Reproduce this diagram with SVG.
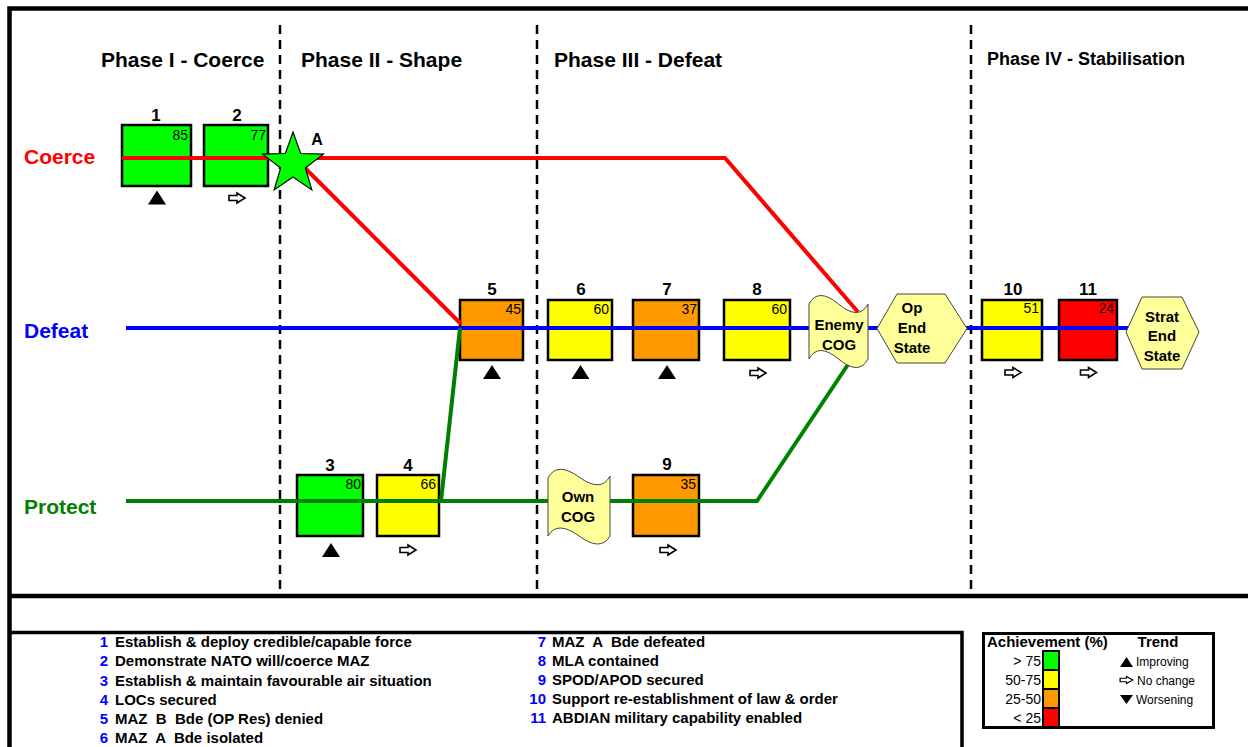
<svg xmlns="http://www.w3.org/2000/svg" width="1248" height="747" viewBox="0 0 1248 747">
<style>
text{font-family:"Liberation Sans",Arial,sans-serif}
.frame{fill:none;stroke:#000;stroke-width:4.5}
.phase{stroke:#000;stroke-width:2.5;stroke-dasharray:9 6;fill:none}
.title{font-size:21px;font-weight:bold}
.row{font-size:21px;font-weight:bold}
.box{stroke:#000;stroke-width:2.5}
.g{fill:#00ff00}.y{fill:#ffff00}.o{fill:#ff9900}.r{fill:#ff0000}
.num{font-size:17px;font-weight:bold;text-anchor:middle}
.val{font-size:14px;text-anchor:end}
.cog{fill:#ffff99;stroke:#444;stroke-width:1}
.ct{font-size:15px;font-weight:bold;text-anchor:middle}
.ln{fill:none;stroke-width:4}
.lg{font-size:15px;font-weight:bold;white-space:pre}
.lgn{font-size:15px;font-weight:bold;fill:#0000ff;text-anchor:end}
.sw{stroke:#000;stroke-width:2}
.rng{font-size:14px;text-anchor:end}
.tr{font-size:12px}
</style>
<defs>
<path id="up" d="M0,-7 L9,7 L-9,7 Z" fill="#000"/>
<path id="arr" d="M-8,-2.5 H0 V-5 L8,0 L0,5 V2.5 H-8 Z" fill="#fff" stroke="#000" stroke-width="1.6" stroke-linejoin="miter"/>
</defs>
<rect width="1248" height="747" fill="#fff"/>
<g id="frame">
<path class="frame" d="M1252,8.5 H9.5 V750"/>
<path class="frame" d="M9.5,596 H1252"/>
<path d="M9.5,632.5 H962 V750" fill="none" stroke="#000" stroke-width="3.5"/>
<rect x="983.5" y="633.5" width="230" height="94" fill="none" stroke="#000" stroke-width="3"/>
<line class="phase" x1="280" y1="25" x2="280" y2="594"/>
<line class="phase" x1="537" y1="25" x2="537" y2="594"/>
<line class="phase" x1="971" y1="25" x2="971" y2="594"/>
</g>
<g id="titles">
<text class="title" x="101" y="67">Phase I - Coerce</text>
<text class="title" x="301" y="67">Phase II - Shape</text>
<text class="title" x="554" y="67">Phase III - Defeat</text>
<text x="987" y="65" font-size="18" font-weight="bold">Phase IV - Stabilisation</text>
<text class="row" x="24" y="164" fill="#ff0000">Coerce</text>
<text class="row" x="24" y="338" fill="#0000ff">Defeat</text>
<text class="row" x="24" y="514" fill="#008000">Protect</text>
</g>
<g id="n1"><rect class="box g" x="122" y="125" width="69" height="61"/><text class="num" x="156" y="121">1</text><text class="val" x="188" y="140">85</text><use href="#up" x="157" y="197.5"/></g>
<g id="n2"><rect class="box g" x="204" y="125" width="64" height="61"/><text class="num" x="237" y="121">2</text><text class="val" x="266" y="140">77</text><use href="#arr" x="237" y="198"/></g>
<g id="n3"><rect class="box g" x="297" y="475" width="66" height="61"/><text class="num" x="330" y="471">3</text><text class="val" x="361" y="489">80</text><use href="#up" x="331" y="550"/></g>
<g id="n4"><rect class="box y" x="377" y="475" width="62" height="61"/><text class="num" x="408" y="471">4</text><text class="val" x="436" y="489">66</text><use href="#arr" x="408" y="550"/></g>
<g id="n5"><rect class="box o" x="460" y="300" width="63" height="60"/><text class="num" x="492" y="295">5</text><text class="val" x="521" y="314">45</text><use href="#up" x="492" y="372"/></g>
<g id="n6"><rect class="box y" x="548" y="300" width="64" height="60"/><text class="num" x="581" y="295">6</text><text class="val" x="609" y="314">60</text><use href="#up" x="580.5" y="372"/></g>
<g id="n7"><rect class="box o" x="633" y="300" width="66" height="60"/><text class="num" x="667" y="295">7</text><text class="val" x="697" y="314">37</text><use href="#up" x="667" y="372"/></g>
<g id="n8"><rect class="box y" x="724" y="300" width="66" height="60"/><text class="num" x="757" y="295">8</text><text class="val" x="787" y="314">60</text><use href="#arr" x="758" y="373"/></g>
<g id="n9"><rect class="box o" x="633" y="475" width="66" height="61"/><text class="num" x="667" y="470">9</text><text class="val" x="696" y="489">35</text><use href="#arr" x="668" y="550"/></g>
<g id="n10"><rect class="box y" x="982" y="300" width="60" height="60"/><text class="num" x="1013" y="295">10</text><text class="val" x="1039" y="313">51</text><use href="#arr" x="1013" y="372.5"/></g>
<g id="n11"><rect class="box r" x="1059" y="300" width="58" height="60"/><text class="num" x="1088" y="295">11</text><text class="val" x="1114" y="313">24</text><use href="#arr" x="1088.5" y="372.5"/></g>
<g id="connectors">
<path class="ln" stroke="#ff0000" d="M122,158 H725 L858,312"/>
<path class="ln" stroke="#ff0000" d="M300,163 L461,324"/>
<path class="ln" stroke="#0000ff" d="M126,328 H1130"/>
<path class="ln" stroke="#008000" d="M126,501 H757 L851,360"/>
<path class="ln" stroke="#008000" d="M441,501 L460,328"/>
</g>
<g id="starA">
<polygon points="293,132 300.64,153.48 323.43,154.11 305.36,168.02 311.81,189.89 293,177 274.19,189.89 280.64,168.02 262.57,154.11 285.36,153.48" fill="#00ff00" stroke="#000" stroke-width="1.2"/>
<text x="317" y="145" font-size="16" font-weight="bold" text-anchor="middle">A</text>
</g>
<g id="enemyCOG">
<path class="cog" d="M809,304 Q818,287 838.5,304 Q859,321 868,304 L868,359 Q859,376 838.5,359 Q818,342 809,359 Z"/>
<text class="ct" x="839" y="330">Enemy</text><text class="ct" x="839" y="349.5">COG</text>
</g>
<g id="ownCOG">
<path class="cog" d="M548,478 Q557,461 579,477 Q601,493 610,476 L610,536 Q601,552 579,536 Q557,520 548,536 Z"/>
<text class="ct" x="578" y="502">Own</text><text class="ct" x="578" y="522">COG</text>
</g>
<g id="opEndState">
<polygon class="cog" points="877,328.5 897,294 945,294 967,328.5 945,363 897,363"/>
<text class="ct" x="912" y="313">Op</text><text class="ct" x="912" y="333">End</text><text class="ct" x="912" y="353">State</text>
</g>
<g id="stratEndState">
<polygon class="cog" points="1126,332 1142,297 1182,297 1199,332 1182,369 1142,369"/>
<text class="ct" x="1162" y="322">Strat</text><text class="ct" x="1162" y="341">End</text><text class="ct" x="1162" y="361">State</text>
</g>
<g id="legendObjectives">
<text class="lgn" x="108" y="647">1</text><text class="lg" x="115" y="647">Establish &amp; deploy credible/capable force</text>
<text class="lgn" x="108" y="666">2</text><text class="lg" x="115" y="666">Demonstrate NATO will/coerce MAZ</text>
<text class="lgn" x="108" y="685.5">3</text><text class="lg" x="115" y="685.5">Establish &amp; maintain favourable air situation</text>
<text class="lgn" x="108" y="704.5">4</text><text class="lg" x="115" y="704.5">LOCs secured</text>
<text class="lgn" x="108" y="724">5</text><text class="lg" x="115" y="724">MAZ  B  Bde (OP Res) denied</text>
<text class="lgn" x="108" y="743">6</text><text class="lg" x="115" y="743">MAZ  A  Bde isolated</text>
<text class="lgn" x="546" y="647">7</text><text class="lg" x="552" y="647">MAZ  A  Bde defeated</text>
<text class="lgn" x="546" y="666">8</text><text class="lg" x="552" y="666">MLA contained</text>
<text class="lgn" x="546" y="685">9</text><text class="lg" x="552" y="685">SPOD/APOD secured</text>
<text class="lgn" x="546" y="704">10</text><text class="lg" x="552" y="704">Support re-establishment of law &amp; order</text>
<text class="lgn" x="546" y="723">11</text><text class="lg" x="552" y="723">ABDIAN military capability enabled</text>
</g>
<g id="legendKey">
<text x="987" y="647" font-size="15" font-weight="bold">Achievement (%)</text>
<text x="1158" y="647" font-size="15" font-weight="bold" text-anchor="middle">Trend</text>
<rect class="sw g" x="1043" y="651" width="16" height="19"/>
<rect class="sw y" x="1043" y="670" width="16" height="19"/>
<rect class="sw o" x="1043" y="689" width="16" height="19"/>
<rect class="sw r" x="1043" y="708" width="16" height="19"/>
<text class="rng" x="1041" y="666">&gt; 75</text>
<text class="rng" x="1041" y="685">50-75</text>
<text class="rng" x="1041" y="704">25-50</text>
<text class="rng" x="1041" y="723">&lt; 25</text>
<path d="M1126.5,657 L1133,667 L1120,667 Z"/>
<text class="tr" x="1136" y="666">Improving</text>
<use href="#arr" transform="translate(1126.5,680) scale(0.8,0.7)"/>
<text class="tr" x="1137" y="685">No change</text>
<path d="M1120,695 L1133,695 L1126.5,704 Z"/>
<text class="tr" x="1136" y="704">Worsening</text>
</g>
</svg>
